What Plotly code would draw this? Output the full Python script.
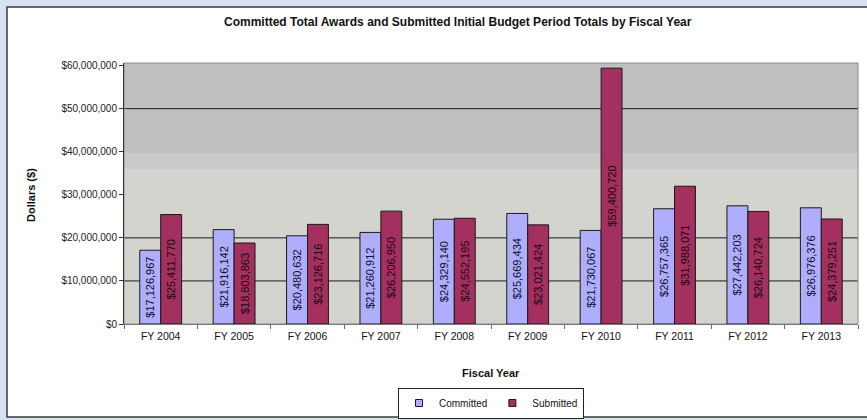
import plotly.graph_objects as go

years = ["FY 2004", "FY 2005", "FY 2006", "FY 2007", "FY 2008",
         "FY 2009", "FY 2010", "FY 2011", "FY 2012", "FY 2013"]
committed = [17126967, 21916142, 20480632, 21260912, 24329140,
             25669434, 21730067, 26757365, 27442203, 26976376]
submitted = [25411770, 18803863, 23126716, 26206950, 24552195,
             23021424, 59400720, 31988071, 26140724, 24379251]
ytick_vals = [0, 10e6, 20e6, 30e6, 40e6, 50e6, 60e6]
ytick_text = ["$0", "$10,000,000", "$20,000,000", "$30,000,000",
              "$40,000,000", "$50,000,000", "$60,000,000"]
grid_levels = [10e6, 20e6, 50e6]
series_names = ["Committed", "Submitted"]
series_colors = ["#aeaefc", "#a3305e"]

FONT = "Liberation Sans, Arial, sans-serif"

def money(v):
    return "${:,.0f}".format(v)

fig = go.Figure()
for name, vals, col, tcol in zip(series_names, [committed, submitted], series_colors,
                                 ["#101030", "#1a0a10"]):
    fig.add_trace(go.Bar(
        name=name, x=years, y=vals, showlegend=False,
        marker=dict(color=col, line=dict(color="#1a1a1a", width=1)),
        text=[money(v) for v in vals], textposition="inside",
        insidetextanchor="middle", textangle=-90,
        textfont=dict(family=FONT, size=11, color=tcol),
        hoverinfo="skip",
    ))
for name, col in zip(series_names, series_colors):
    fig.add_trace(go.Scatter(
        name=name, x=[None], y=[None], mode="markers",
        marker=dict(symbol="square", size=7, color=col, line=dict(color="#1a1a1a", width=1)),
    ))

L, R, T, B = 124, 9, 63, 96
W, H = 867, 420
pw, ph = W - L - R, H - T - B

def px_x(p):
    return (p - L) / pw

def px_y(p):
    return (H - B - p) / ph

shapes = [
    dict(type="rect", xref="paper", yref="paper",
         x0=px_x(7), x1=px_x(870), y0=px_y(417), y1=px_y(7),
         fillcolor="white", line=dict(color="#3a3a3a", width=1.5), layer="below"),
    dict(type="rect", xref="paper", yref="paper", x0=0, x1=1, y0=0, y1=1,
         fillcolor="#d4d4cf", line=dict(width=0), layer="below"),
    dict(type="rect", xref="paper", yref="y", x0=0, x1=1, y0=36e6, y1=40e6,
         fillcolor="#cacaca", line=dict(width=0), layer="below"),
    dict(type="rect", xref="paper", yref="paper", x0=0, x1=1, y0=px_y(153), y1=1,
         fillcolor="#c0c0c0", line=dict(width=0), layer="below"),
]
for g in grid_levels:
    shapes.append(dict(type="line", xref="paper", yref="y", x0=0, x1=1, y0=g, y1=g,
                       line=dict(color="#1a1a1a", width=1), layer="below"))
shapes.append(dict(type="rect", xref="paper", yref="paper", x0=0, x1=1, y0=0, y1=1,
                   line=dict(color="#8a8a8a", width=1), layer="below"))

annotations = [
    dict(text="<b>Committed Total Awards and Submitted Initial Budget Period Totals by Fiscal Year</b>",
         xref="paper", yref="paper", x=px_x(458), y=px_y(22), showarrow=False,
         font=dict(family=FONT, size=12, color="#111"), xanchor="center", yanchor="middle"),
    dict(text="<b>Dollars ($)</b>", xref="paper", yref="paper", x=px_x(31), y=px_y(195),
         showarrow=False, textangle=-90, font=dict(family=FONT, size=11, color="#111"),
         xanchor="center", yanchor="middle"),
    dict(text="<b>Fiscal Year</b>", xref="paper", yref="paper", x=px_x(491), y=px_y(373),
         showarrow=False, font=dict(family=FONT, size=11, color="#111"),
         xanchor="center", yanchor="middle"),
]

fig.update_layout(
    width=W, height=H,
    margin=dict(l=L, r=R, t=T, b=B, pad=0, autoexpand=False),
    paper_bgcolor="#d8e1f2",
    plot_bgcolor="rgba(0,0,0,0)",
    barmode="group", bargap=0.43, bargroupgap=0,
    shapes=shapes, annotations=annotations,
    font=dict(family=FONT, size=10, color="#111"),
    showlegend=True,
    legend=dict(orientation="h", x=px_x(491), y=px_y(403), xanchor="center", yanchor="middle",
                bgcolor="white", bordercolor="#222", borderwidth=1,
                font=dict(family=FONT, size=10, color="#111"),
                itemwidth=30, tracegroupgap=0,
                itemclick=False, itemdoubleclick=False),
    xaxis=dict(showgrid=False, ticks="outside", tickson="boundaries", ticklen=4,
               tickcolor="#666", showline=True, linecolor="#777", linewidth=1,
               tickfont=dict(family=FONT, size=10.5, color="#111"), zeroline=False,
               ticklabelstandoff=2, fixedrange=True),
    yaxis=dict(range=[0, 60.6e6], tickvals=ytick_vals, ticktext=ytick_text,
               showgrid=False, zeroline=False, ticks="outside", ticklen=4,
               tickcolor="#333", showline=True, linecolor="#333", linewidth=1,
               tickfont=dict(family=FONT, size=10, color="#222"), fixedrange=True),
)

fig.write_html("out.html", config={"displayModeBar": False},
               post_script="document.body.style.margin='0';document.body.style.overflow='hidden';")
